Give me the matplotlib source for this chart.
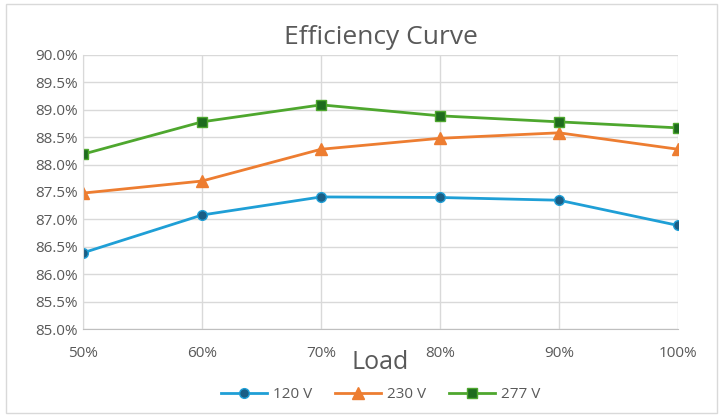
import matplotlib.pyplot as plt
from matplotlib.patches import Rectangle

#==============================================================================
# Data
#==============================================================================
loads = ['50%', '60%', '70%', '80%', '90%', '100%']
eff120 = [86.39, 87.08, 87.41, 87.40, 87.35, 86.89]
eff230 = [87.48, 87.70, 88.28, 88.48, 88.58, 88.28]
eff277 = [88.19, 88.78, 89.09, 88.89, 88.78, 88.67]
yticks = [85.0, 85.5, 86.0, 86.5, 87.0, 87.5, 88.0, 88.5, 89.0, 89.5, 90.0]

plt.rcParams['font.family'] = ['Open Sans', 'DejaVu Sans']
txt = '#595959'

#==============================================================================
# Plot
#==============================================================================
fig = plt.figure(figsize=(7.23, 4.15), dpi=100)
fig.patches.append(Rectangle((0.008, 0.006), 0.984, 0.984, transform=fig.transFigure,
                             fill=False, edgecolor='#d9d9d9', linewidth=1))
ax = fig.add_axes([0.1148, 0.2072, 0.823, 0.6603])
x = list(range(len(loads)))

ax.plot(x, eff120, color='#1f9fd6', linewidth=2, marker='o', markersize=7,
        markerfacecolor='#1a5e86', markeredgecolor='#1f9fd6', markeredgewidth=1, label='120 V')
ax.plot(x, eff230, color='#ed7d31', linewidth=2, marker='^', markersize=8,
        markerfacecolor='#ed7d31', markeredgecolor='#ed7d31', label='230 V')
ax.plot(x, eff277, color='#4ea72e', linewidth=2, marker='s', markersize=7,
        markerfacecolor='#1e6b1e', markeredgecolor='#4ea72e', markeredgewidth=1, label='277 V')

ax.set_xlim(0, len(loads) - 1)
ax.set_ylim(85, 90)
ax.set_xticks(x)
ax.set_xticklabels(loads)
ax.set_yticks(yticks)
ax.set_yticklabels(['%.1f%%' % v for v in yticks])
ax.tick_params(length=0, labelsize=11, colors=txt, pad=12)
ax.tick_params(axis='y', pad=4)
ax.grid(color='#d9d9d9', linewidth=1)
for s in ax.spines.values():
    s.set_visible(False)
ax.spines['bottom'].set_visible(True)
ax.spines['bottom'].set_color('#bfbfbf')
ax.spines['left'].set_visible(True)
ax.spines['left'].set_color('#d9d9d9')

ax.set_title('Efficiency Curve', fontsize=19, color=txt, pad=8)
ax.set_xlabel('Load', fontsize=18, color=txt, labelpad=-8)
ax.legend(loc='center', bbox_to_anchor=(0.5, -0.24), ncol=3, frameon=False,
          fontsize=11, labelcolor=txt, handlelength=3, columnspacing=1.5,
          handletextpad=0.4)

plt.savefig('out.png', dpi=100)
